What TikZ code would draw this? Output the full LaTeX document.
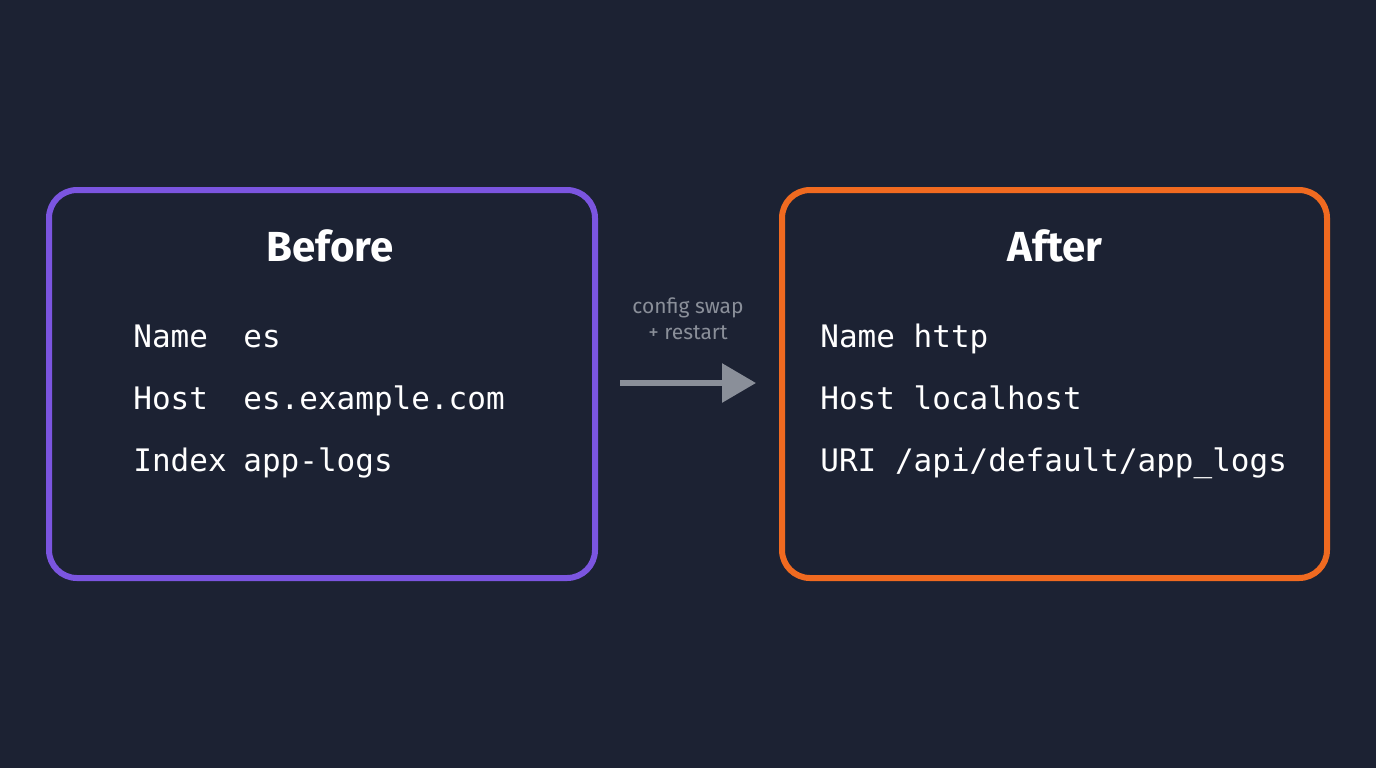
\documentclass[tikz,border=0pt]{standalone}
\usepackage{fontspec}
\setmainfont{Fira Sans}
\newfontfamily\monof{DejaVu Sans Mono}
\usetikzlibrary{arrows.meta}
\definecolor{bg}{HTML}{1C2233}
\definecolor{purp}{HTML}{7B55E0}
\definecolor{oran}{HTML}{F06A20}
\definecolor{gry}{HTML}{8A8F99}
\begin{document}
\begin{tikzpicture}[x=0.5pt,y=-0.5pt,
  panel/.style={line width=3pt,rounded corners=14pt},
  ttl/.style={text=white,font=\fontsize{21}{24}\selectfont\bfseries},
  kv/.style={anchor=base west,text=white,inner sep=0pt,font=\monof\fontsize{15.5}{18}\selectfont},
  lbl/.style={text=gry,font=\fontsize{10.5}{13}\selectfont,align=center}]
\fill[bg] (0,0) rectangle (1376,768);
\useasboundingbox (0,0) rectangle (1376,768);
\draw[panel,purp] (49,190) rectangle (595,578);
\draw[panel,oran] (782,190) rectangle (1327,578);
\node[ttl] (tb) at (330,246) {Before};
\node[ttl] (ta) at (1055,246) {After};
\node[kv] (k1) at (133,347) {Name};
\node[kv] (v1) at (243,347) {es};
\node[kv] (k2) at (133,409) {Host};
\node[kv] (v2) at (243,409) {es.example.com};
\node[kv] (k3) at (133,471) {Index};
\node[kv] (v3) at (243,471) {app-logs};
\node[kv] (r1) at (820,347) {Name http};
\node[kv] (r2) at (820,409) {Host localhost};
\node[kv] (r3) at (820,471) {URI /api/default/app\_logs};
\node[lbl] (lab) at (688,319) {config swap\\+ restart};
\coordinate (a0) at (620,383);
\coordinate (a1) at (756,383);
\draw[gry,line width=3pt,-{Triangle[length=17pt,width=19pt]}] (a0) -- (a1);
\end{tikzpicture}
\end{document}
